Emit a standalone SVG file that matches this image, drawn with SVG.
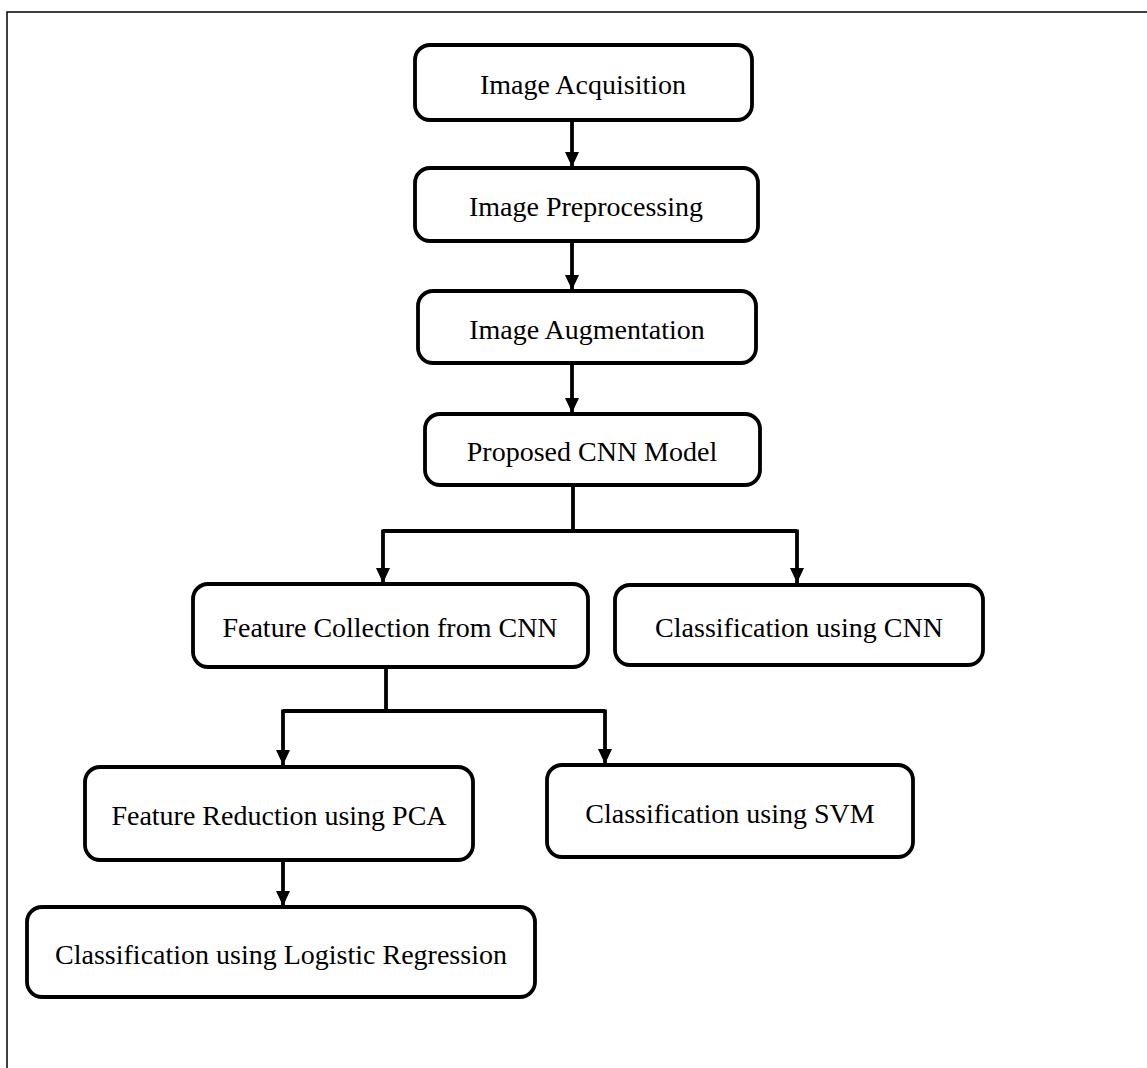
<svg xmlns="http://www.w3.org/2000/svg" width="1147" height="1068" viewBox="0 0 1147 1068">
<defs>
<style>
.box{fill:#fff;stroke:#000;stroke-width:3.8}
.lbl{font-family:"Liberation Serif","Times New Roman",serif;font-size:28px;fill:#000;text-anchor:middle}
.ln{fill:none;stroke:#000;stroke-width:3.8}
</style>
<marker id="ah" viewBox="0 0 15 14" refX="15" refY="7" markerWidth="15" markerHeight="14" markerUnits="userSpaceOnUse" orient="auto">
<path d="M0,0 L15,7 L0,14 Z" fill="#000"/>
</marker>
</defs>
<rect width="1147" height="1068" fill="#fff"/>
<path d="M7,1068 V12 H1147" fill="none" stroke="#000" stroke-width="1.5"/>
<g id="connectors">
<line class="ln" x1="572" y1="120" x2="572" y2="167" marker-end="url(#ah)"/>
<line class="ln" x1="572" y1="241" x2="572" y2="290" marker-end="url(#ah)"/>
<line class="ln" x1="572" y1="363" x2="572" y2="413" marker-end="url(#ah)"/>
<polyline class="ln" points="573,485 573,531"/>
<polyline class="ln" points="383,531 797,531"/>
<line class="ln" x1="383" y1="529.5" x2="383" y2="583" marker-end="url(#ah)"/>
<line class="ln" x1="797" y1="529.5" x2="797" y2="583" marker-end="url(#ah)"/>
<polyline class="ln" points="386,667 386,711"/>
<polyline class="ln" points="283,711 605,711"/>
<line class="ln" x1="283" y1="709.5" x2="283" y2="765" marker-end="url(#ah)"/>
<line class="ln" x1="605" y1="709.5" x2="605" y2="764" marker-end="url(#ah)"/>
<line class="ln" x1="283" y1="860" x2="283" y2="906" marker-end="url(#ah)"/>
</g>
<g id="n1"><rect class="box" x="415" y="45" width="337" height="75" rx="15"/><text class="lbl" x="583" y="94">Image Acquisition</text></g>
<g id="n2"><rect class="box" x="415" y="168" width="343" height="73" rx="15"/><text class="lbl" x="586" y="216">Image Preprocessing</text></g>
<g id="n3"><rect class="box" x="418" y="291" width="338" height="72" rx="15"/><text class="lbl" x="587" y="339">Image Augmentation</text></g>
<g id="n4"><rect class="box" x="425" y="414" width="335" height="71" rx="15"/><text class="lbl" x="592" y="461">Proposed CNN Model</text></g>
<g id="n5"><rect class="box" x="193" y="584" width="395" height="83" rx="15"/><text class="lbl" x="390" y="637">Feature Collection from CNN</text></g>
<g id="n6"><rect class="box" x="615" y="585" width="368" height="80" rx="15"/><text class="lbl" x="799" y="637">Classification using CNN</text></g>
<g id="n7"><rect class="box" x="85" y="767" width="388" height="93" rx="15"/><text class="lbl" x="279" y="825">Feature Reduction using PCA</text></g>
<g id="n8"><rect class="box" x="547" y="765" width="366" height="92" rx="15"/><text class="lbl" x="730" y="823">Classification using SVM</text></g>
<g id="n9"><rect class="box" x="27" y="907" width="508" height="90" rx="15"/><text class="lbl" x="281" y="964">Classification using Logistic Regression</text></g>
</svg>
